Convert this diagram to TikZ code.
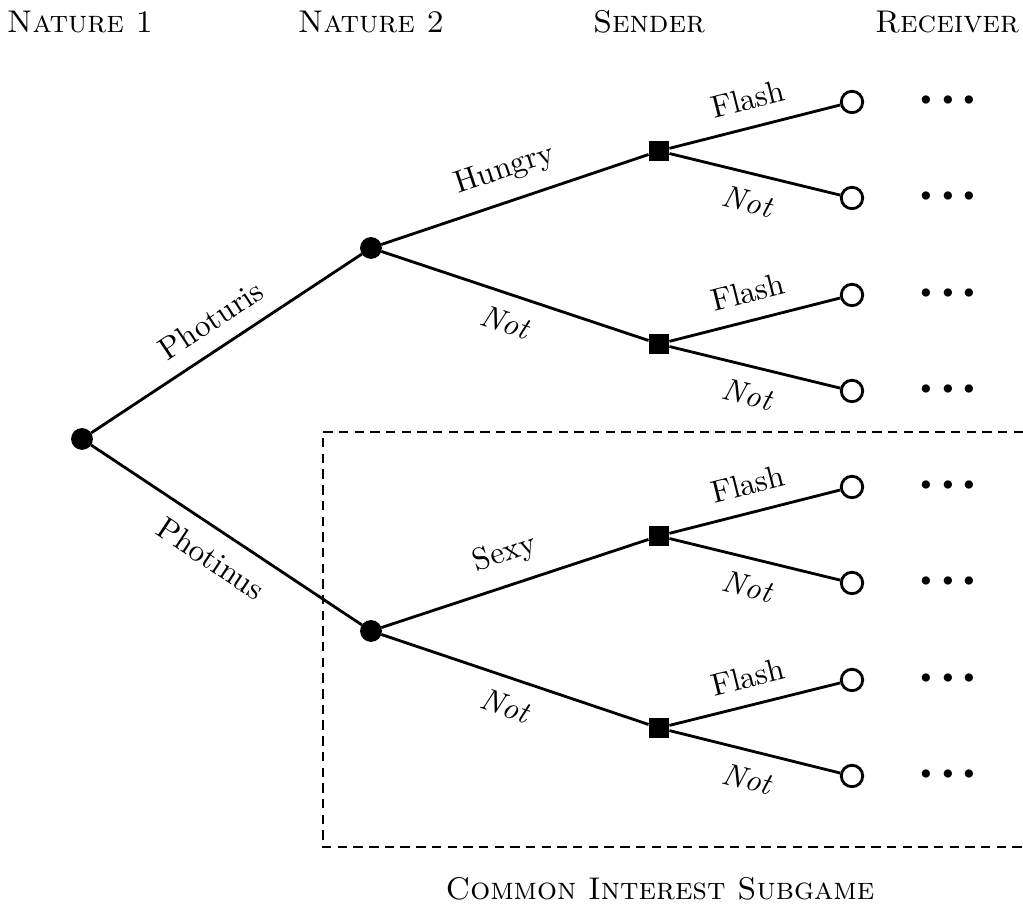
\documentclass[tikz,border=0pt]{standalone}
\usepackage{amsmath}
\begin{document}
\begin{tikzpicture}[x=0.0112cm,y=-0.0112cm,
  edge/.style={line width=0.9pt},
  chance/.style={circle,fill=black,draw=black,inner sep=0pt,minimum size=0.23cm},
  sendnode/.style={rectangle,fill=black,draw=black,inner sep=0pt,minimum size=0.22cm},
  recnode/.style={circle,fill=white,draw=black,line width=0.9pt,inner sep=0pt,minimum size=0.24cm},
  header/.style={font=\scshape},
  dotsnode/.style={inner sep=0pt,font=\Huge},
  lab/.style={midway,sloped,inner sep=5pt}]
\useasboundingbox (0,0) rectangle (1023,909);

% headers
\node[header] (h1) at (80,22) {Nature 1};
\node[header] (h2) at (371,22) {Nature 2};
\node[header] (h3) at (649,22) {Sender};
\node[header] (h4) at (947,22) {Receiver};

% dashed subgame box
\draw[line width=0.9pt,dash pattern=on 3pt off 2pt] (1023,432) -- (323,432) -- (323,847) -- (1023,847);
\node[header] (sub) at (660,889) {Common Interest Subgame};

% nodes
\node[chance] (r) at (82,439) {};
\node[chance] (a) at (371,248) {};
\node[chance] (b) at (371,631) {};
\node[sendnode] (s1) at (659,151) {};
\node[sendnode] (s2) at (659,344) {};
\node[sendnode] (s3) at (659,536) {};
\node[sendnode] (s4) at (659,728) {};
\foreach \i/\y in {1/102,2/198,3/295,4/391,5/487,6/583,7/680,8/776}{
  \node[recnode] (c\i) at (852,\y) {};
  \node[dotsnode] (d\i) at (948,\y) {${\cdot}{\cdot}{\cdot}$};
}

% edges
\draw[edge] (r) -- node[lab,above] (lp1) {Photuris} (a);
\draw[edge] (r) -- node[lab,below] (lp2) {Photinus} (b);
\draw[edge] (a) -- node[lab,above] (la1) {Hungry} (s1);
\draw[edge] (a) -- node[lab,below] (la2) {\textit{Not}} (s2);
\draw[edge] (b) -- node[lab,above] (lb1) {Sexy} (s3);
\draw[edge] (b) -- node[lab,below] (lb2) {\textit{Not}} (s4);
\draw[edge] (s1) -- node[lab,above] (f1) {Flash} (c1);
\draw[edge] (s1) -- node[lab,below] (n1) {\textit{Not}} (c2);
\draw[edge] (s2) -- node[lab,above] (f2) {Flash} (c3);
\draw[edge] (s2) -- node[lab,below] (n2) {\textit{Not}} (c4);
\draw[edge] (s3) -- node[lab,above] (f3) {Flash} (c5);
\draw[edge] (s3) -- node[lab,below] (n3) {\textit{Not}} (c6);
\draw[edge] (s4) -- node[lab,above] (f4) {Flash} (c7);
\draw[edge] (s4) -- node[lab,below] (n4) {\textit{Not}} (c8);
\end{tikzpicture}
\end{document}
